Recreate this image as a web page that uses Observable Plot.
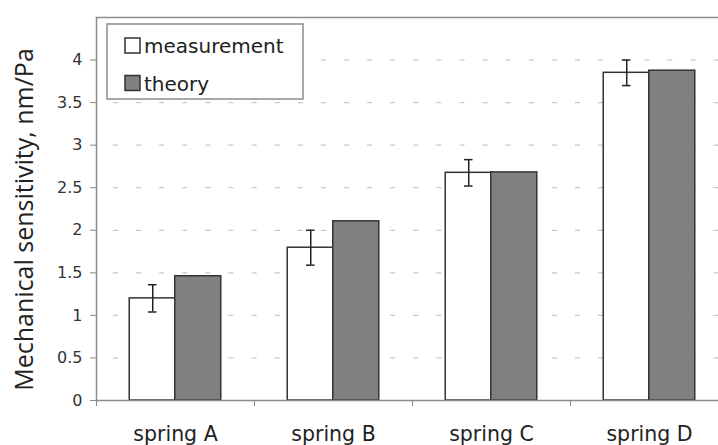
<!DOCTYPE html>
<html>
<head>
<meta charset="utf-8">
<script src="https://cdn.jsdelivr.net/npm/d3@7"></script>
<script src="https://cdn.jsdelivr.net/npm/@observablehq/plot@0.6"></script>
<style>
  html, body { margin: 0; padding: 0; background: white; }
  #wrap { position: relative; width: 718px; height: 445px; }
  #legend { position: absolute; left: 0; top: 0; pointer-events: none; }
</style>
</head>
<body>
<div id="wrap"></div>
<script>
// ---- data ----
const springs = ["spring A", "spring B", "spring C", "spring D"];
const measurement = [1.20, 1.795, 2.675, 3.85];
const measurementErr = [0.16, 0.205, 0.155, 0.15];
const theory = [1.46, 2.105, 2.68, 3.875];
const yTicks = [0, 0.5, 1, 1.5, 2, 2.5, 3, 3.5, 4];
const yTickLabels = ["0", "0.5", "1", "1.5", "2", "2.5", "3", "3.5", "4"];
const yMax = 4.5;
const seriesNames = ["measurement", "theory"];
const yTitle = "Mechanical sensitivity, nm/Pa";

const rows = springs.map((s, i) => ({
  spring: s,
  measurement: measurement[i],
  lo: measurement[i] - measurementErr[i],
  hi: measurement[i] + measurementErr[i],
  theory: theory[i]
}));

// layout
const W = 718, H = 445;
const mLeft = 96, mTop = 17, mBottom = 45;
const xRange = [96, 728];
const pad = 0.712;
const step = (xRange[1] - xRange[0]) / springs.length;
const half = step * (1 - pad) / 2;
const capInset = half - 4;
const font = "DejaVu Sans";

const chart = Plot.plot({
  width: W,
  height: H,
  marginLeft: mLeft,
  marginTop: mTop,
  marginBottom: mBottom,
  marginRight: -2,
  style: { fontFamily: font, fontSize: "16px", color: "#333", background: "white" },
  x: { domain: springs, range: xRange, paddingInner: pad, paddingOuter: pad / 2, axis: null },
  y: { domain: [0, yMax], axis: null },
  marks: [
    Plot.ruleY(yTicks.filter(d => d > 0), {
      stroke: "#c8c8c8", strokeWidth: 1.2, strokeDasharray: "5 18.1", strokeDashoffset: 6.1
    }),
    Plot.barY(rows, { x: "spring", y: "measurement", dx: -half, fill: "white", stroke: "#333", strokeWidth: 1.5 }),
    Plot.barY(rows, { x: "spring", y: "theory", dx: half, fill: "#808080", stroke: "#333", strokeWidth: 1.5 }),
    Plot.ruleX(rows, { x: "spring", y1: "lo", y2: "hi", dx: -half, stroke: "#222", strokeWidth: 1.5 }),
    Plot.tickY(rows, { x: "spring", y: "hi", dx: -half, insetLeft: capInset, insetRight: capInset, stroke: "#222", strokeWidth: 1.5 }),
    Plot.tickY(rows, { x: "spring", y: "lo", dx: -half, insetLeft: capInset, insetRight: capInset, stroke: "#222", strokeWidth: 1.5 }),
    Plot.frame({ stroke: "#8c8c8c", strokeWidth: 1.5 }),
    Plot.axisY({
      ticks: yTicks, tickFormat: (d, i) => yTickLabels[yTicks.indexOf(d)],
      tickSize: 6, tickPadding: 8, fontSize: 16, fontFamily: font, label: null, stroke: "#888", fill: "#333"
    }),
    Plot.axisX({ tickSize: 0, tickPadding: 26, fontSize: 20.5, fontFamily: font, label: null, fill: "#222" }),
    Plot.axisX({ tickSize: 6, tickFormat: () => "", dx: -step / 2, label: null, stroke: "#888" }),
    Plot.text([yTitle], {
      frameAnchor: "left", rotate: -90, dx: -72, dy: 10.5,
      fontSize: 25, fontFamily: "Open Sans", fill: "#222", lineAnchor: "middle", textAnchor: "middle"
    })
  ]
});

const wrap = document.getElementById("wrap");
wrap.appendChild(chart);

// legend overlay (inside plot area, top-left)
const ns = "http://www.w3.org/2000/svg";
const lg = document.createElementNS(ns, "svg");
lg.setAttribute("id", "legend");
lg.setAttribute("width", W);
lg.setAttribute("height", H);
function el(tag, attrs, text) {
  const e = document.createElementNS(ns, tag);
  for (const k in attrs) e.setAttribute(k, attrs[k]);
  if (text != null) e.textContent = text;
  lg.appendChild(e);
  return e;
}
el("rect", { x: 107, y: 24, width: 196, height: 75, fill: "white", stroke: "#8c8c8c", "stroke-width": 1.5 });
const swFill = ["white", "#808080"];
seriesNames.forEach((name, i) => {
  const y0 = 38 + i * 37.5;
  el("rect", { x: 125, y: y0, width: 15, height: 15, fill: swFill[i], stroke: "#333", "stroke-width": 1.5 });
  el("text", { x: 144, y: y0 + 15, "font-family": font, "font-size": 20, fill: "#222" }, name);
});
wrap.appendChild(lg);
</script>
</body>
</html>
